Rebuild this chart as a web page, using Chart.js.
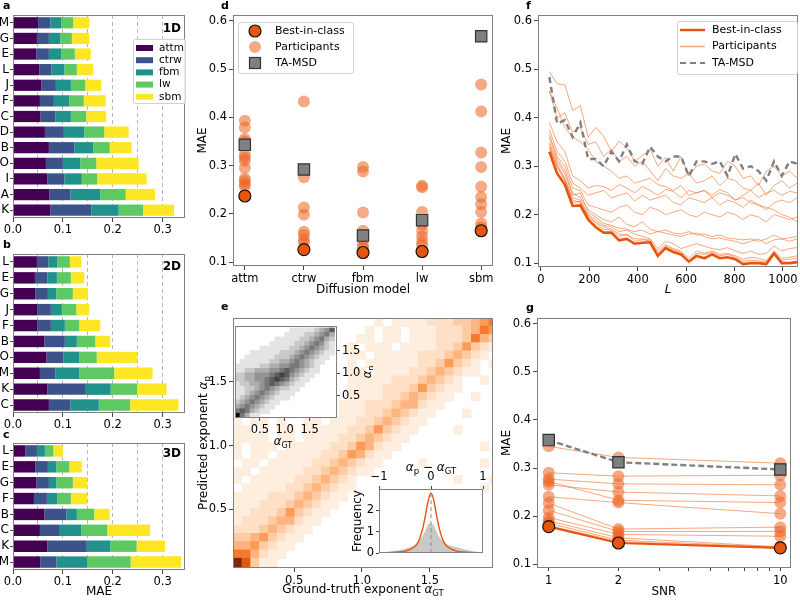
<!DOCTYPE html>
<html>
<head>
<meta charset="utf-8">
<script src="https://cdn.jsdelivr.net/npm/chart.js@4.4.1/dist/chart.umd.min.js"></script>
<style>
  body { margin: 0; background: #fff; }
  #wrap { position: relative; width: 800px; height: 600px; overflow: hidden; }
  canvas { position: absolute; }
  .lbl { position: absolute; font: bold 11px 'DejaVu Sans'; color: #000; }
</style>
</head>
<body>
<div id="wrap">
  <canvas id="cA" width="192" height="240" style="left:0;top:0"></canvas>
  <canvas id="cB" width="192" height="192" style="left:0;top:238px"></canvas>
  <canvas id="cC" width="192" height="172" style="left:0;top:428px"></canvas>
  <canvas id="cD" width="310" height="298" style="left:195px;top:0"></canvas>
  <canvas id="cF" width="300" height="300" style="left:500px;top:0"></canvas>
  <canvas id="cG" width="300" height="305" style="left:500px;top:295px"></canvas>
  <canvas id="cE" width="310" height="305" style="left:195px;top:295px"></canvas>
  <canvas id="cI" width="140" height="135" style="left:233px;top:317px"></canvas>
  <canvas id="cH" width="140" height="110" style="left:349px;top:452px"></canvas>
  <div class="lbl" style="left:3px;top:-1px">a</div>
  <div class="lbl" style="left:3px;top:238px">b</div>
  <div class="lbl" style="left:3px;top:428px">c</div>
  <div class="lbl" style="left:221px;top:-1px">d</div>
  <div class="lbl" style="left:221px;top:300px">e</div>
  <div class="lbl" style="left:526px;top:-1px">f</div>
  <div class="lbl" style="left:526px;top:301px">g</div>
</div>
<script>
// ---- panels a, b, c : MAE par équipe, empilé par modèle ----
const models = ['attm', 'ctrw', 'fbm', 'lw', 'sbm'];
const modelColors = ['#440154', '#3b528b', '#21918c', '#5ec962', '#fde725'];

const teams1D = ['M', 'G', 'E', 'L', 'J', 'F', 'C', 'D', 'B', 'O', 'I', 'A', 'K'];
const attm1D = [0.050, 0.048, 0.047, 0.053, 0.057, 0.054, 0.055, 0.064, 0.072, 0.066, 0.069, 0.073, 0.075];
const ctrw1D = [0.025, 0.024, 0.025, 0.024, 0.029, 0.028, 0.030, 0.038, 0.051, 0.034, 0.034, 0.042, 0.082];
const fbm1D  = [0.022, 0.023, 0.025, 0.026, 0.030, 0.031, 0.031, 0.041, 0.038, 0.035, 0.035, 0.060, 0.055];
const lw1D   = [0.024, 0.023, 0.027, 0.025, 0.029, 0.029, 0.031, 0.040, 0.033, 0.032, 0.031, 0.051, 0.049];
const sbm1D  = [0.032, 0.035, 0.032, 0.033, 0.032, 0.044, 0.040, 0.049, 0.044, 0.085, 0.099, 0.059, 0.062];

const teams2D = ['L', 'E', 'G', 'J', 'F', 'B', 'O', 'M', 'K', 'C'];
const attm2D = [0.048, 0.044, 0.045, 0.049, 0.049, 0.063, 0.067, 0.054, 0.069, 0.072];
const ctrw2D = [0.023, 0.025, 0.025, 0.027, 0.027, 0.041, 0.034, 0.031, 0.077, 0.043];
const fbm2D  = [0.018, 0.019, 0.017, 0.022, 0.028, 0.024, 0.032, 0.048, 0.050, 0.057];
const lw2D   = [0.025, 0.028, 0.033, 0.029, 0.029, 0.037, 0.035, 0.070, 0.053, 0.063];
const sbm2D  = [0.023, 0.027, 0.030, 0.026, 0.042, 0.030, 0.081, 0.077, 0.059, 0.097];

const teams3D = ['L', 'E', 'G', 'F', 'B', 'C', 'K', 'M'];
const attm3D = [0.025, 0.045, 0.047, 0.042, 0.063, 0.054, 0.069, 0.055];
const ctrw3D = [0.023, 0.025, 0.025, 0.026, 0.044, 0.040, 0.079, 0.032];
const fbm3D  = [0.016, 0.017, 0.015, 0.021, 0.021, 0.043, 0.047, 0.062];
const lw3D   = [0.017, 0.026, 0.033, 0.027, 0.035, 0.052, 0.053, 0.087];
const sbm3D  = [0.019, 0.025, 0.029, 0.033, 0.031, 0.086, 0.057, 0.101];

// ---- panel d : MAE par modèle de diffusion ----
const dParticipants = [
  [0.393, 0.379, 0.355, 0.350, 0.322, 0.317, 0.310, 0.295, 0.273, 0.268, 0.262, 0.257],
  [0.433, 0.276, 0.213, 0.198, 0.163, 0.156, 0.147, 0.141],
  [0.297, 0.288, 0.203, 0.165, 0.147, 0.135, 0.130],
  [0.258, 0.255, 0.204, 0.178, 0.165, 0.153, 0.142, 0.135],
  [0.468, 0.412, 0.327, 0.297, 0.256, 0.235, 0.220, 0.204, 0.180, 0.172]
];
const dBest = [0.237, 0.126, 0.120, 0.122, 0.165];
const dTaMsd = [0.343, 0.292, 0.155, 0.187, 0.568];

// ---- panel e : histogramme 2D alpha prédit / alpha vrai (niveaux 0-9, ligne 0 = haut) ----
const heatX0 = 0.05, heatTop = 2.0, heatBin = 0.065;
const heatRows = [
  "000000000000000010111122233456",
  "000000000000000101101112223465",
  "000000000000001101101112223643",
  "000000000000010111011112235321",
  "000000000000011011111222343210",
  "000000000000010111111223532101",
  "000000000000011011112234321100",
  "000000000000011111222343210010",
  "000000000000011112223532110000",
  "000000000000011112234321100100",
  "000000000000111222344211000000",
  "000000000000111223432110001000",
  "101101001101112234321100000000",
  "110101101111122353211000010000",
  "111101101111223432110000000000",
  "101110111112235421100000000010",
  "101101111122354211000000000000",
  "011011111223432110000100000010",
  "110111112234321100000000000000",
  "101111122343210000000000010001",
  "011111223432110000000000000010",
  "111122234321100000000000000000",
  "111222343211000000000000000000",
  "112223532110000000000000000000",
  "122234421100000000000000000000",
  "222343211000000000000000000000",
  "334532110000000000000000000000",
  "445321100000000000000000000000",
  "664211000000000000000000000000",
  "973110000000000000000000000000"
];
const insetX0 = 0, insetTop = 2.0, insetBin = 0.1;
const insetRows = [
  "00000000000111112346",
  "00000000001111223453",
  "00000000111112234532",
  "00000001111122345421",
  "00000111111223454321",
  "00011111122234543211",
  "00111111222345432110",
  "01111112233454321100",
  "11111223344554321000",
  "11223334456543211000",
  "22334445676432110000",
  "22334456765321100000",
  "12233456543211000000",
  "11223454322110000000",
  "11234543211100000000",
  "12345432111000000000",
  "23454321100000000000",
  "34543211000000000000",
  "56532110000000000000",
  "95311000000000000000"
];
const histDiff = [-1, -0.8, -0.6, -0.5, -0.4, -0.3, -0.25, -0.2, -0.15, -0.1, -0.05, 0, 0.05, 0.1, 0.15, 0.2, 0.25, 0.3, 0.4, 0.5, 0.6, 0.8, 1];
const histBest = [0.01, 0.02, 0.05, 0.09, 0.17, 0.33, 0.5, 0.8, 1.25, 1.85, 2.5, 2.8, 2.5, 1.85, 1.25, 0.8, 0.5, 0.33, 0.17, 0.09, 0.05, 0.02, 0.01];
const histAll = [0.02, 0.07, 0.14, 0.2, 0.28, 0.4, 0.5, 0.65, 0.85, 1.1, 1.35, 1.4, 1.3, 1.05, 0.8, 0.62, 0.5, 0.42, 0.33, 0.27, 0.2, 0.1, 0.02];

// ---- panel f : MAE en fonction de la longueur L ----
const fL = [35, 67, 99, 131, 163, 195, 227, 259, 291, 323, 355, 387, 419, 451, 483, 515, 547,
            579, 611, 643, 675, 707, 739, 771, 803, 835, 867, 899, 931, 963, 995, 1027, 1059];
const fBest = [0.330, 0.285, 0.262, 0.218, 0.219, 0.190, 0.174, 0.163, 0.163, 0.147, 0.150, 0.140, 0.142, 0.143, 0.115, 0.131, 0.123,
               0.118, 0.103, 0.115, 0.110, 0.118, 0.110, 0.112, 0.108, 0.098, 0.100, 0.100, 0.098, 0.120, 0.100, 0.100, 0.102];
const fTaMsd = [0.484, 0.388, 0.395, 0.360, 0.390, 0.315, 0.315, 0.300, 0.330, 0.310, 0.345, 0.310, 0.305, 0.340, 0.320, 0.310, 0.320,
                0.320, 0.280, 0.310, 0.310, 0.305, 0.310, 0.280, 0.325, 0.295, 0.300, 0.290, 0.270, 0.310, 0.280, 0.310, 0.305];
const fParticipants = [
  [0.495, 0.470, 0.468, 0.415, 0.425, 0.360, 0.380, 0.362, 0.330, 0.352, 0.338, 0.310, 0.322, 0.335, 0.300, 0.318, 0.290, 0.320, 0.280, 0.300, 0.305, 0.290, 0.285, 0.310, 0.300, 0.275, 0.280, 0.260, 0.290, 0.300, 0.280, 0.290, 0.275],
  [0.455, 0.400, 0.410, 0.370, 0.380, 0.345, 0.350, 0.320, 0.335, 0.310, 0.320, 0.300, 0.310, 0.290, 0.270, 0.295, 0.280, 0.275, 0.285, 0.265, 0.270, 0.280, 0.260, 0.275, 0.270, 0.255, 0.250, 0.265, 0.240, 0.260, 0.270, 0.255, 0.265],
  [0.455, 0.420, 0.380, 0.360, 0.350, 0.335, 0.310, 0.300, 0.290, 0.275, 0.280, 0.265, 0.270, 0.275, 0.262, 0.258, 0.250, 0.260, 0.240, 0.245, 0.250, 0.235, 0.245, 0.240, 0.230, 0.235, 0.225, 0.220, 0.215, 0.210, 0.200, 0.195, 0.185],
  [0.390, 0.350, 0.330, 0.280, 0.270, 0.255, 0.260, 0.258, 0.250, 0.262, 0.255, 0.245, 0.258, 0.250, 0.240, 0.252, 0.248, 0.235, 0.250, 0.245, 0.250, 0.240, 0.252, 0.245, 0.230, 0.240, 0.250, 0.235, 0.245, 0.250, 0.240, 0.248, 0.245],
  [0.375, 0.330, 0.310, 0.265, 0.255, 0.240, 0.245, 0.250, 0.235, 0.240, 0.245, 0.228, 0.240, 0.230, 0.235, 0.240, 0.225, 0.220, 0.235, 0.230, 0.225, 0.235, 0.220, 0.230, 0.225, 0.215, 0.230, 0.220, 0.210, 0.225, 0.230, 0.225, 0.235],
  [0.365, 0.320, 0.300, 0.255, 0.250, 0.220, 0.215, 0.210, 0.205, 0.215, 0.220, 0.205, 0.200, 0.215, 0.210, 0.200, 0.205, 0.210, 0.200, 0.195, 0.205, 0.200, 0.195, 0.205, 0.200, 0.190, 0.200, 0.195, 0.185, 0.200, 0.195, 0.190, 0.195],
  [0.360, 0.315, 0.290, 0.245, 0.235, 0.210, 0.200, 0.190, 0.185, 0.195, 0.180, 0.175, 0.185, 0.170, 0.165, 0.168, 0.162, 0.160, 0.165, 0.158, 0.160, 0.155, 0.158, 0.152, 0.150, 0.148, 0.150, 0.145, 0.150, 0.158, 0.150, 0.152, 0.155],
  [0.350, 0.310, 0.285, 0.240, 0.245, 0.205, 0.195, 0.182, 0.178, 0.172, 0.170, 0.165, 0.168, 0.160, 0.165, 0.162, 0.158, 0.155, 0.160, 0.162, 0.155, 0.150, 0.152, 0.148, 0.145, 0.140, 0.145, 0.150, 0.140, 0.148, 0.150, 0.145, 0.150],
  [0.345, 0.305, 0.275, 0.235, 0.230, 0.200, 0.190, 0.178, 0.175, 0.165, 0.168, 0.160, 0.155, 0.150, 0.130, 0.145, 0.140, 0.130, 0.135, 0.140, 0.135, 0.130, 0.128, 0.132, 0.125, 0.120, 0.125, 0.118, 0.120, 0.135, 0.125, 0.130, 0.132],
  [0.340, 0.300, 0.272, 0.230, 0.225, 0.195, 0.185, 0.175, 0.170, 0.160, 0.158, 0.150, 0.150, 0.145, 0.125, 0.138, 0.130, 0.125, 0.110, 0.125, 0.120, 0.125, 0.118, 0.120, 0.115, 0.108, 0.112, 0.110, 0.105, 0.125, 0.110, 0.112, 0.115],
  [0.338, 0.298, 0.270, 0.225, 0.228, 0.198, 0.182, 0.170, 0.168, 0.155, 0.160, 0.145, 0.148, 0.148, 0.120, 0.135, 0.128, 0.122, 0.105, 0.120, 0.118, 0.122, 0.115, 0.118, 0.112, 0.104, 0.106, 0.105, 0.102, 0.122, 0.106, 0.108, 0.110]
];

// ---- panel g : MAE en fonction du SNR ----
const snr = [1, 2, 10];
const gBest = [0.178, 0.144, 0.134];
const gTaMsd = [0.358, 0.312, 0.297];
const gParticipants = [
  [0.345, 0.322, 0.310],
  [0.290, 0.283, 0.285],
  [0.277, 0.267, 0.265],
  [0.272, 0.233, 0.228],
  [0.265, 0.250, 0.242],
  [0.240, 0.228, 0.205],
  [0.227, 0.173, 0.177],
  [0.212, 0.168, 0.168],
  [0.197, 0.162, 0.158],
  [0.190, 0.155, 0.136],
  [0.185, 0.150, 0.135],
  [0.180, 0.147, 0.133]
];

// ---- ticks ----
const barTicks = [0, 0.05, 0.1, 0.15, 0.2, 0.25, 0.3];
const maeTicks = [0.1, 0.2, 0.3, 0.4, 0.5, 0.6];
const modelTicks = [0, 1, 2, 3, 4];
const alphaTicks = [0.5, 1.0, 1.5];
const lTicks = [0, 200, 400, 600, 800, 1000];
const snrTicks = [1, 2, 3, 4, 5, 6, 7, 8, 9, 10];
const snrLabelled = [1, 2, 10];
const histXTicks = [-1, 0, 1];
const histYTicks = [0, 1, 2];

// ---- styles ----
const bestCol = '#e6550d';
const partFill = 'rgba(236,100,35,0.55)';
const partLine = 'rgba(241,110,40,0.6)';
const taFill = '#7f7f7f';
const taLine = '#808080';
const FONT = "'DejaVu Sans'";
// palette des niveaux de la carte (1..9)
const orangeLevels = ['#ffffff', '#feeee0', '#fde0c6', '#fdcca3', '#fdb47e', '#fd9a58', '#f47a30', '#e0590f', '#b84206', '#7f2704'];

Chart.defaults.font.family = FONT;
Chart.defaults.font.size = 11.5;
Chart.defaults.color = '#000';
Chart.defaults.animation = false;
Chart.defaults.responsive = false;
Chart.defaults.events = [];
Chart.defaults.plugins.legend.display = false;
Chart.defaults.plugins.tooltip.enabled = false;

const F = s => s + 'px ' + FONT;
const I = s => 'italic ' + s + 'px ' + FONT;
const setTicks = vals => s => { s.ticks = vals.map(v => ({ value: v })); };
const isTenth = v => Math.abs(v * 10 - Math.round(v * 10)) < 1e-6;

// cadre autour de la zone de tracé
const frame = {
  id: 'frame',
  afterDatasetsDraw(chart) {
    const a = chart.chartArea, c = chart.ctx;
    c.save();
    c.strokeStyle = '#808080';
    c.lineWidth = 1;
    c.strokeRect(Math.round(a.left) + 0.5, Math.round(a.top) + 0.5, Math.round(a.right - a.left) - 1, Math.round(a.bottom - a.top) - 1);
    c.restore();
  }
};
const whiteBg = {
  id: 'whiteBg',
  beforeDraw(chart) {
    const a = chart.chartArea, c = chart.ctx;
    c.save();
    c.fillStyle = '#fff';
    c.fillRect(a.left, a.top, a.right - a.left, a.bottom - a.top);
    c.restore();
  }
};

function mathText(c, parts, x, y, rot) {
  c.save();
  c.translate(x, y);
  if (rot) c.rotate(rot);
  let w = 0;
  parts.forEach(p => { c.font = p.f; w += c.measureText(p.t).width; });
  let cx = -w / 2;
  c.textBaseline = 'middle';
  c.fillStyle = '#000';
  parts.forEach(p => { c.font = p.f; c.fillText(p.t, cx, p.dy || 0); cx += c.measureText(p.t).width; });
  c.restore();
}

function labels(fn) {
  return { id: 'mathLabels', afterDraw(chart) { fn(chart.ctx, chart.chartArea); } };
}

function tagPlugin(text, dy) {
  return {
    id: 'tag',
    afterDraw(chart) {
      const a = chart.chartArea, c = chart.ctx;
      c.save();
      c.font = 'bold ' + F(12);
      c.textAlign = 'right';
      c.textBaseline = 'middle';
      c.fillStyle = '#000';
      c.fillText(text, a.right - 4, a.top + dy);
      c.restore();
    }
  };
}

const mk = {
  rect: col => (c, x, y) => { c.fillStyle = col; c.fillRect(x - 8.5, y - 3, 17, 6); },
  dot: (fill, stroke) => (c, x, y) => {
    c.beginPath(); c.arc(x, y, 6, 0, 2 * Math.PI); c.fillStyle = fill; c.fill();
    if (stroke) { c.lineWidth = 1.2; c.strokeStyle = stroke; c.stroke(); }
  },
  square: (fill, stroke) => (c, x, y) => {
    c.fillStyle = fill; c.fillRect(x - 5.5, y - 5.5, 11, 11);
    c.lineWidth = 1.2; c.strokeStyle = stroke; c.strokeRect(x - 5.5, y - 5.5, 11, 11);
  },
  line: (col, w, dash) => (c, x, y) => {
    c.beginPath(); c.setLineDash(dash || []); c.moveTo(x - 12.5, y); c.lineTo(x + 12.5, y);
    c.strokeStyle = col; c.lineWidth = w; c.stroke(); c.setLineDash([]);
  }
};

// légende encadrée dans la zone de tracé
function legendBox(pos, items) {
  return {
    id: 'legendBox',
    afterDraw(chart) {
      const a = chart.chartArea, c = chart.ctx;
      const x = pos.right !== undefined ? a.right - pos.right - pos.w : a.left + pos.left;
      const y = a.top + pos.top;
      c.save();
      c.fillStyle = 'rgba(255,255,255,0.85)';
      c.strokeStyle = '#d0d0d0';
      c.lineWidth = 1;
      c.beginPath();
      c.roundRect(Math.round(x) + 0.5, Math.round(y) + 0.5, pos.w, pos.h, 2);
      c.fill(); c.stroke();
      items.forEach((it, i) => {
        const yy = y + pos.first + i * pos.step;
        it.draw(c, x + pos.mark, yy);
        c.fillStyle = '#000';
        c.font = F(pos.size || 11);
        c.textBaseline = 'middle';
        c.fillText(it.label, x + pos.text, yy);
      });
      c.restore();
    }
  };
}

function grey(level) {
  const g = 255 - level * 27;
  return 'rgb(' + g + ',' + g + ',' + g + ')';
}

function gridPoints(rows, x0, top, bin) {
  const pts = [];
  rows.forEach((row, r) => {
    [...row].forEach((ch, col) => {
      const v = +ch;
      if (v > 0) pts.push({ x: x0 + (col + 0.5) * bin, y: top - (r + 0.5) * bin, v });
    });
  });
  return pts;
}
function cellRadius(ctx, bin) {
  const s = ctx.chart.scales.x;
  const px = Math.abs(s.getPixelForValue(bin) - s.getPixelForValue(0));
  return (px + 0.6) / Math.SQRT2;
}

// ---------- panels a, b, c ----------
function barPanel(id, teams, series, tag, tagDy, legend, xTitle, xH, padTop) {
  const plugins = [frame, tagPlugin(tag, tagDy)];
  if (legend) {
    plugins.push(legendBox({ left: 120, top: 24, w: 52, h: 64, first: 9, step: 12.2, mark: 11.5, text: 26, size: 10.5 },
      models.map((m, i) => ({ label: m, draw: mk.rect(modelColors[i]) }))));
  }
  return new Chart(document.getElementById(id), {
    type: 'bar',
    data: {
      labels: teams,
      datasets: series.map((vals, i) => ({
        label: models[i],
        data: vals,
        backgroundColor: modelColors[i],
        borderWidth: 0,
        barPercentage: 0.72,
        categoryPercentage: 1
      }))
    },
    options: {
      indexAxis: 'y',
      layout: { padding: { top: padTop, right: 7 } },
      scales: {
        x: {
          stacked: true, min: 0, max: 0.345,
          afterBuildTicks: setTicks(barTicks),
          afterFit: s => { s.height = xH; },
          grid: {
            color: c => (c.tick && c.tick.value > 0) ? '#b8b8b8' : 'rgba(0,0,0,0)',
            tickColor: c => (c.tick && isTenth(c.tick.value)) ? '#444' : 'rgba(0,0,0,0)',
            tickLength: 4
          },
          border: { display: false, dash: [4, 3] },
          ticks: { padding: 1, autoSkip: false, maxRotation: 0, callback: v => isTenth(v) ? v.toFixed(1) : '' },
          title: { display: !!xTitle, text: xTitle || '', font: { size: 12 }, padding: { top: 0, bottom: 1 } }
        },
        y: {
          stacked: true,
          afterFit: s => { s.width = 13; },
          grid: { drawOnChartArea: false, offset: false, tickLength: 3, tickColor: '#444' },
          border: { display: false },
          ticks: { padding: 1, autoSkip: false, font: { size: 12 } }
        }
      }
    },
    plugins
  });
}

barPanel('cA', teams1D, [attm1D, ctrw1D, fbm1D, lw1D, sbm1D], '1D', 14, true, '', 22, 15);
barPanel('cB', teams2D, [attm2D, ctrw2D, fbm2D, lw2D, sbm2D], '2D', 13, false, '', 17, 16);
barPanel('cC', teams3D, [attm3D, ctrw3D, fbm3D, lw3D, sbm3D], '3D', 11, false, 'MAE', 30, 15);

// axes MAE communs (d, f, g)
function maeAxis(width, titlePad) {
  return {
    min: 0.092, max: 0.612,
    afterBuildTicks: setTicks(maeTicks),
    afterFit: s => { s.width = width; },
    grid: { drawOnChartArea: false, tickLength: 4, tickColor: '#444' },
    border: { display: false },
    ticks: { padding: 2, autoSkip: false, callback: v => v.toFixed(1) },
    title: { display: true, text: 'MAE', font: { size: 12 }, padding: { top: titlePad, bottom: 0 } }
  };
}

// ---------- panel d ----------
new Chart(document.getElementById('cD'), {
  type: 'scatter',
  data: {
    datasets: [
      { data: dBest.map((y, i) => ({ x: i, y })), pointStyle: 'circle', pointRadius: 6,
        backgroundColor: bestCol, borderColor: '#111', borderWidth: 1.2 },
      { data: dTaMsd.map((y, i) => ({ x: i, y })), pointStyle: 'rect', pointRadius: 8,
        backgroundColor: taFill, borderColor: '#333', borderWidth: 1.2 },
      { data: dParticipants.flatMap((vals, i) => vals.map(y => ({ x: i, y }))), pointRadius: 6,
        backgroundColor: partFill, borderWidth: 0 }
    ]
  },
  options: {
    layout: { padding: { top: 15, right: 12 } },
    scales: {
      x: {
        min: -0.2, max: 4.2,
        afterBuildTicks: setTicks(modelTicks),
        afterFit: s => { s.height = 32; },
        grid: { drawOnChartArea: false, tickLength: 4, tickColor: '#444' },
        border: { display: false },
        ticks: { padding: 2, autoSkip: false, maxRotation: 0, callback: v => models[v] },
        title: { display: true, text: 'Diffusion model', font: { size: 12 }, padding: { top: 0, bottom: 1 } }
      },
      y: maeAxis(38, 1)
    }
  },
  plugins: [frame, legendBox({ left: 5, top: 7, w: 115, h: 51, first: 9, step: 16, mark: 17, text: 37 }, [
    { label: 'Best-in-class', draw: mk.dot(bestCol, '#111') },
    { label: 'Participants', draw: mk.dot(partFill) },
    { label: 'TA-MSD', draw: mk.square(taFill, '#333') }
  ])]
});

// ---------- panel f ----------
new Chart(document.getElementById('cF'), {
  type: 'line',
  data: {
    datasets: [
      { data: fBest.map((y, i) => ({ x: fL[i], y })), borderColor: bestCol, borderWidth: 2.6, pointRadius: 0, tension: 0 },
      { data: fTaMsd.map((y, i) => ({ x: fL[i], y })), borderColor: taLine, borderWidth: 2.4, borderDash: [6, 4], pointRadius: 0 },
      ...fParticipants.map(vals => ({ data: vals.map((y, i) => ({ x: fL[i], y })), borderColor: partLine, borderWidth: 1, pointRadius: 0 }))
    ]
  },
  options: {
    layout: { padding: { top: 15, right: 2 } },
    scales: {
      x: {
        type: 'linear', min: -12, max: 1062,
        afterBuildTicks: setTicks(lTicks),
        afterFit: s => { s.height = 33; },
        grid: { drawOnChartArea: false, tickLength: 4, tickColor: '#444' },
        border: { display: false },
        ticks: { padding: 2, autoSkip: false, maxRotation: 0, callback: v => String(v) },
        title: { display: true, text: 'L', font: { size: 12, style: 'italic' }, padding: { top: 0, bottom: 3 } }
      },
      y: maeAxis(38, 0)
    }
  },
  plugins: [frame, legendBox({ right: 1, top: 6, w: 120, h: 53, first: 9, step: 16.5, mark: 15.5, text: 35 }, [
    { label: 'Best-in-class', draw: mk.line(bestCol, 2.4) },
    { label: 'Participants', draw: mk.line(partLine, 1.5) },
    { label: 'TA-MSD', draw: mk.line(taLine, 2.2, [6, 4]) }
  ])]
});

// ---------- panel g ----------
new Chart(document.getElementById('cG'), {
  type: 'line',
  data: {
    datasets: [
      { data: gBest.map((y, i) => ({ x: snr[i], y })), borderColor: bestCol, borderWidth: 2.2,
        pointRadius: 6, pointBackgroundColor: bestCol, pointBorderColor: '#111', pointBorderWidth: 1.2 },
      { data: gTaMsd.map((y, i) => ({ x: snr[i], y })), borderColor: taLine, borderWidth: 2.4, borderDash: [6, 3],
        pointStyle: 'rect', pointRadius: 8, pointBackgroundColor: taFill, pointBorderColor: '#333', pointBorderWidth: 1.2 },
      ...gParticipants.map(vals => ({ data: vals.map((y, i) => ({ x: snr[i], y })), borderColor: partLine, borderWidth: 1,
        pointRadius: 6, pointBackgroundColor: partFill, pointBorderWidth: 0 }))
    ]
  },
  options: {
    layout: { padding: { top: 23, right: 2 } },
    scales: {
      x: {
        type: 'logarithmic', min: 0.89, max: 11.1,
        afterBuildTicks: setTicks(snrTicks),
        afterFit: s => { s.height = 32; },
        grid: { drawOnChartArea: false, tickLength: 3, tickColor: '#444' },
        border: { display: false },
        ticks: { padding: 3, autoSkip: false, maxRotation: 0, callback: v => snrLabelled.includes(v) ? String(v) : '' },
        title: { display: true, text: 'SNR', font: { size: 12 }, padding: { top: 0, bottom: 1 } }
      },
      y: maeAxis(37, 0)
    }
  },
  plugins: [frame]
});

// ---------- panel e : carte de chaleur principale ----------
new Chart(document.getElementById('cE'), {
  type: 'scatter',
  data: {
    datasets: [{
      data: gridPoints(heatRows, heatX0, heatTop, heatBin),
      pointStyle: 'rect',
      pointRadius: ctx => cellRadius(ctx, heatBin),
      backgroundColor: ctx => ctx.raw ? orangeLevels[ctx.raw.v] : 'rgba(0,0,0,0)',
      borderWidth: 0,
      clip: 0
    }]
  },
  options: {
    layout: { padding: { top: 23, right: 12 } },
    scales: {
      x: {
        min: 0.05, max: 1.965,
        afterBuildTicks: setTicks(alphaTicks),
        afterFit: s => { s.height = 32; },
        grid: { drawOnChartArea: false, tickLength: 4, tickColor: '#444' },
        border: { display: false },
        ticks: { padding: 2, autoSkip: false, maxRotation: 0, callback: v => v.toFixed(1) }
      },
      y: {
        min: 0.04, max: 2.0,
        afterBuildTicks: setTicks(alphaTicks),
        afterFit: s => { s.width = 38; },
        grid: { drawOnChartArea: false, tickLength: 4, tickColor: '#444' },
        border: { display: false },
        ticks: { padding: 2, autoSkip: false, callback: v => v.toFixed(1) }
      }
    }
  },
  plugins: [frame, labels((c, a) => {
    mathText(c, [{ t: 'Ground-truth exponent ', f: F(12) }, { t: 'α', f: I(12) }, { t: 'GT', f: F(8.5), dy: 3.5 }],
      (a.left + a.right) / 2, a.bottom + 22);
    mathText(c, [{ t: 'Predicted exponent ', f: F(12) }, { t: 'α', f: I(12) }, { t: 'p', f: F(8.5), dy: 3.5 }],
      9, (a.top + a.bottom) / 2, -Math.PI / 2);
  })]
});

// ---------- encart gris ----------
new Chart(document.getElementById('cI'), {
  type: 'scatter',
  data: {
    datasets: [{
      data: gridPoints(insetRows, insetX0, insetTop, insetBin),
      pointStyle: 'rect',
      pointRadius: ctx => cellRadius(ctx, insetBin),
      backgroundColor: ctx => ctx.raw ? grey(ctx.raw.v) : 'rgba(0,0,0,0)',
      borderWidth: 0,
      clip: 0
    }]
  },
  options: {
    layout: { padding: { top: 2, left: 2 } },
    scales: {
      x: {
        min: 0, max: 2.05,
        afterBuildTicks: setTicks(alphaTicks),
        afterFit: s => { s.height = 34; },
        grid: { drawOnChartArea: false, tickLength: 3, tickColor: '#444' },
        border: { display: false },
        ticks: { padding: 2, autoSkip: false, maxRotation: 0, callback: v => v.toFixed(1) }
      },
      y: {
        position: 'right', min: 0, max: 2.05,
        afterBuildTicks: setTicks(alphaTicks),
        afterFit: s => { s.width = 36; },
        grid: { drawOnChartArea: false, tickLength: 3, tickColor: '#444' },
        border: { display: false },
        ticks: { padding: 2, autoSkip: false, callback: v => v.toFixed(1) }
      }
    }
  },
  plugins: [whiteBg, frame, labels((c, a) => {
    mathText(c, [{ t: 'α', f: I(11.5) }, { t: 'GT', f: F(8), dy: 3.5 }], (a.left + a.right) / 2 - 3, a.bottom + 24);
    mathText(c, [{ t: 'α', f: I(11.5) }, { t: 'p', f: F(8), dy: 3.5 }], a.right + 31, (a.top + a.bottom) / 2, -Math.PI / 2);
  })]
});

// ---------- encart histogramme ----------
new Chart(document.getElementById('cH'), {
  type: 'line',
  data: {
    datasets: [
      { data: histBest.map((y, i) => ({ x: histDiff[i], y })), borderColor: bestCol, borderWidth: 1.4, pointRadius: 0, tension: 0.35 },
      { data: [{ x: 0, y: 0 }, { x: 0, y: 3 }], borderColor: '#8a8a8a', borderWidth: 1, borderDash: [4, 3], pointRadius: 0 },
      { data: histAll.map((y, i) => ({ x: histDiff[i], y })), borderWidth: 0, borderColor: 'rgba(0,0,0,0)',
        backgroundColor: '#c8c8c8', fill: 'origin', pointRadius: 0, tension: 0.35 }
    ]
  },
  options: {
    layout: { padding: { right: 6, bottom: 4 } },
    scales: {
      x: {
        type: 'linear', position: 'top', min: -1, max: 1,
        afterBuildTicks: setTicks(histXTicks),
        afterFit: s => { s.height = 37; },
        grid: { drawOnChartArea: false, tickLength: 3, tickColor: '#444' },
        border: { display: false },
        ticks: { padding: 2, autoSkip: false, maxRotation: 0, callback: v => v < 0 ? '−' + (-v) : String(v) }
      },
      y: {
        min: 0, max: 3,
        afterBuildTicks: setTicks(histYTicks),
        afterFit: s => { s.width = 30; },
        grid: { drawOnChartArea: false, tickLength: 3, tickColor: '#444' },
        border: { display: false },
        ticks: { padding: 2, autoSkip: false },
        title: { display: true, text: 'Frequency', font: { size: 12 }, padding: { top: 2, bottom: 0 } }
      }
    }
  },
  plugins: [whiteBg, frame, labels((c, a) => {
    mathText(c, [{ t: 'α', f: I(12) }, { t: 'p', f: F(8.5), dy: 3.5 }, { t: ' − ', f: F(12) },
      { t: 'α', f: I(12) }, { t: 'GT', f: F(8.5), dy: 3.5 }], (a.left + a.right) / 2, a.top - 21);
  })]
});
</script>
</body>
</html>
